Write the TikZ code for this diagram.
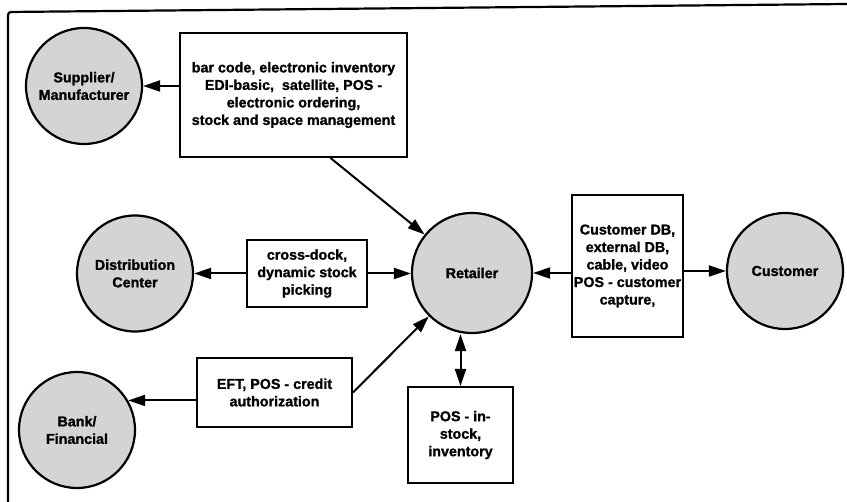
\documentclass[tikz,border=0pt]{standalone}
\usepackage{fontspec}
\setmainfont{Liberation Sans}[BoldFeatures={FakeBold=1.2}]
\usetikzlibrary{arrows.meta}
\begin{document}
\begin{tikzpicture}[x=1pt,y=-1pt,
  every node/.style={font=\bfseries\fontsize{14.3}{17.5}\selectfont, align=center, inner sep=0pt},
  party/.style={circle, draw, line width=2.2pt, fill=black!17, minimum size=116pt},
  infobox/.style={rectangle, draw, line width=2pt, fill=white},
  conn/.style={line width=2pt, -{Triangle[length=17pt,width=11pt]}},
  biconn/.style={line width=2pt, {Triangle[length=17pt,width=11pt]}-{Triangle[length=17pt,width=11pt]}},
  frameline/.style={line width=2.2pt}]
\useasboundingbox (0,0) rectangle (847,502);
% frame
\draw[frameline, rounded corners=3pt] (847,4) -- (8,12) -- (8,502);
% parties
\node[party] (sup) at (84,86) {Supplier/\\Manufacturer};
\node[party] (dist) at (135,273.5) {Distribution\\Center};
\node[party] (bank) at (77,430) {Bank/\\Financial};
\node[party, minimum size=120pt] (ret) at (472,273) {Retailer};
\node[party] (cust) at (785,271) {Customer};
% boxes
\node[infobox, minimum width=227pt, minimum height=124pt] (box1) at (293.5,95)
  {bar code, electronic inventory\\EDI-basic,\ \ satellite, POS -\\electronic ordering,\\stock and space management};
\node[infobox, minimum width=120pt, minimum height=67pt] (box2) at (307,273.5)
  {cross-dock,\\dynamic stock\\picking};
\node[infobox, minimum width=155pt, minimum height=69pt] (box3) at (274.5,392.5)
  {EFT, POS - credit\\authorization};
\node[infobox, minimum width=111pt, minimum height=142pt] (box4) at (627.5,266)
  {Customer DB,\\external DB,\\cable, video\\POS - customer\\capture,};
\node[infobox, minimum width=105pt, minimum height=96pt] (box5) at (460.5,435)
  {POS - in-\\stock,\\inventory};
% connectors
\draw[conn] (box1.west |- sup.east) -- (sup.east);
\draw[conn] ([xshift=37pt]box1.south) -- (ret);
\draw[conn] (box2.west) -- (dist.east);
\draw[conn] (box2.east) -- (box2.east -| ret.west);
\draw[conn] (box3.west |- bank.30) -- (bank.30);
\draw[conn] (box3.east) -- (ret);
\draw[conn] (box4.west |- ret.east) -- (ret.east);
\draw[conn] (box4.east |- cust.west) -- (cust.west);
\draw[biconn] (box5.north) -- (box5.north |- ret.south);
\end{tikzpicture}
\end{document}
